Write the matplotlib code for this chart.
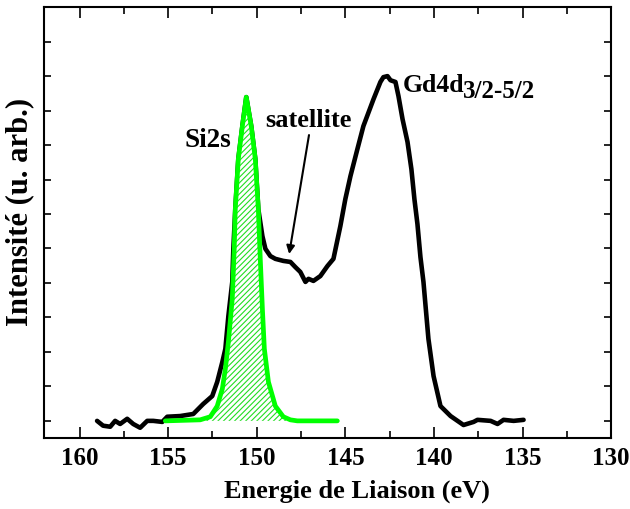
import numpy as np
import matplotlib.pyplot as plt
from matplotlib.ticker import MultipleLocator

# spectre mesure (energie de liaison en eV, intensite en u. arb.)
energie = [159.01, 158.67, 158.27, 157.99, 157.71, 157.31, 156.97, 156.58, 156.18, 155.84,
           155.33, 155.05, 154.32, 153.58, 153.02, 152.51, 152.23, 151.94, 151.77, 151.60,
           151.38, 151.32, 151.21, 151.04, 150.81, 150.59, 150.31, 150.08, 149.91, 149.68,
           149.51, 149.23, 148.95, 148.50, 148.10, 147.82, 147.54, 147.25, 147.08, 146.80,
           146.41, 146.01, 145.67, 145.28, 145.0, 144.71, 144.32, 143.98, 143.41, 143.02,
           142.85, 142.62, 142.45, 142.17, 142.0, 141.77, 141.49, 141.27, 141.10, 140.93,
           140.76, 140.59, 140.31, 140.02, 139.63, 139.06, 138.33, 137.76, 137.54, 136.8,
           136.41, 136.07, 135.5, 134.94]
intensite = [0.0, -0.14, -0.17, 0.0, -0.09, 0.06, -0.09, -0.20, 0.0, 0.0,
             -0.03, 0.12, 0.14, 0.20, 0.49, 0.72, 1.13, 1.71, 2.09, 3.04,
             4.03, 4.99, 6.14, 7.59, 8.55, 9.39, 8.55, 7.59, 6.14, 5.36,
             4.99, 4.78, 4.70, 4.64, 4.61, 4.46, 4.32, 4.03, 4.12, 4.06,
             4.20, 4.49, 4.70, 5.65, 6.43, 7.10, 7.88, 8.55, 9.33, 9.83,
             9.97, 10.0, 9.88, 9.83, 9.42, 8.75, 8.09, 7.30, 6.43, 5.71,
             4.75, 4.03, 2.38, 1.30, 0.43, 0.14, -0.12, -0.03, 0.03, 0.0,
             -0.09, 0.03, 0.0, 0.03]

# composante Si2s
e_si = [155.16, 153.19, 152.62, 152.23, 151.94, 151.77, 151.60, 151.38, 151.27, 151.21,
        151.04, 150.81, 150.59, 150.31, 150.08, 149.91, 149.80, 149.68, 149.57, 149.34,
        148.95, 148.50, 148.10, 147.71, 145.45]
i_si = [0.0, 0.03, 0.12, 0.43, 0.93, 1.51, 2.29, 3.54, 4.99, 6.14,
        7.59, 8.55, 9.39, 8.55, 7.59, 6.14, 4.70, 3.25, 2.09, 1.13,
        0.43, 0.12, 0.03, 0.0, 0.0]

plt.rcParams['font.family'] = 'Liberation Serif'
plt.rcParams['font.weight'] = 'bold'
plt.rcParams['hatch.linewidth'] = 0.8

fig, ax = plt.subplots(figsize=(6.3, 5.1), dpi=100)
fig.subplots_adjust(left=0.07, right=0.97, top=0.984, bottom=0.139)

ax.plot(energie, intensite, color='black', lw=3.3, solid_joinstyle='round',
        solid_capstyle='round', zorder=2)
ax.fill_between(e_si, i_si, 0, facecolor='white', edgecolor='#22dd22',
                hatch='//////', lw=0, zorder=3)
ax.plot(e_si, i_si, color='#00ff00', lw=3.4, solid_joinstyle='round',
        solid_capstyle='round', zorder=4)

ax.set_xlim(162, 130)
ax.set_ylim(-0.5, 12)
ax.xaxis.set_major_locator(MultipleLocator(5))
ax.xaxis.set_minor_locator(MultipleLocator(2.5))
ax.yaxis.set_major_locator(MultipleLocator(1))
ax.set_yticklabels([])
ax.tick_params(axis='both', which='both', direction='in', top=True, right=True, width=1.2)
ax.tick_params(axis='x', which='major', length=8, labelsize=18, pad=6)
ax.tick_params(axis='x', which='minor', length=5)
ax.tick_params(axis='y', which='major', length=5)
for s in ax.spines.values():
    s.set_linewidth(1.5)

ax.set_xlabel('Energie de Liaison (eV)', fontsize=19, fontweight='bold')
ax.xaxis.set_label_coords(0.552, -0.095)
ax.set_ylabel('Intensité (u. arb.)', fontsize=22, fontweight='bold')
ax.yaxis.set_label_coords(-0.017, 0.527)

ax.text(151.45, 7.97, 'Si2s', fontsize=19.5, fontweight='bold', ha='right', va='baseline')
ax.text(147.1, 8.55, 'satellite', fontsize=19, fontweight='bold', ha='center', va='baseline')
ax.annotate('', xy=(148.17, 4.84), xytext=(147.05, 8.29),
            arrowprops=dict(arrowstyle='-|>', color='black', lw=1.5,
                            mutation_scale=12, shrinkA=0, shrinkB=0))
ax.text(141.74, 9.57, 'Gd4d', fontsize=18.5, fontweight='bold', ha='left', va='baseline')
ax.text(138.35, 9.39, '3/2-5/2', fontsize=18, fontweight='bold', ha='left', va='baseline')

fig.savefig('out.png', dpi=100)
